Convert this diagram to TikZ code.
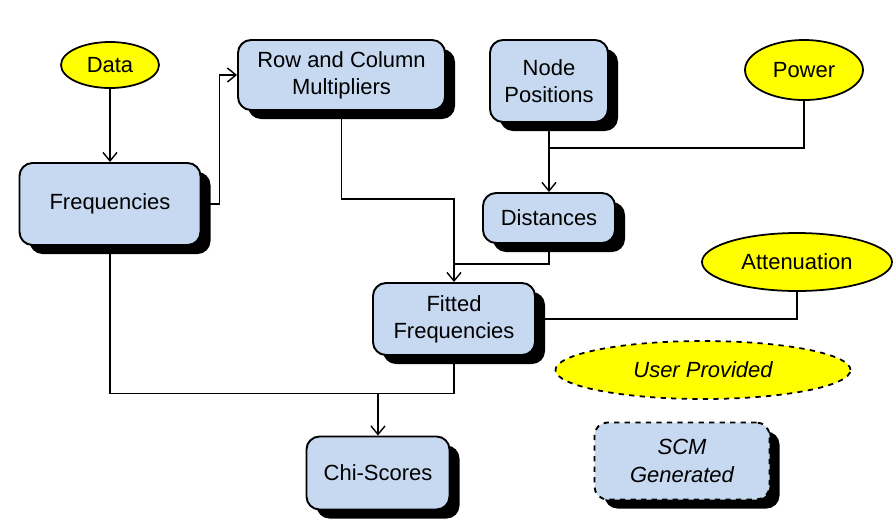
\documentclass[tikz,border=0pt]{standalone}
\usepackage{fontspec}
\setmainfont{Liberation Sans}
\usetikzlibrary{arrows.meta,shapes.geometric,shadows}
\definecolor{boxblue}{RGB}{198,217,240}
\definecolor{inyellow}{RGB}{255,255,0}

\begin{document}
\begin{tikzpicture}[>={Straight Barb[length=1.7mm,width=2.8mm]},thick,
        font=\fontsize{12.5}{15.5}\selectfont,
        calc/.style={rectangle,rounded corners=2.6mm,draw,line width=1.1pt,fill=boxblue,
            align=center,inner sep=0pt,
            general shadow={fill=black,shadow xshift=0.2cm,shadow yshift=-0.18cm}},
        input/.style={ellipse,draw,line width=1pt,fill=inyellow,inner sep=0pt}]
        \useasboundingbox (0,0) rectangle (17.86,-10.44);
        \node[input,minimum width=1.96cm,minimum height=0.92cm]  at (2.2,-1.3)    (data)    {Data};
        \node[calc,minimum width=3.62cm,minimum height=1.64cm]   at (2.2,-4.08)   (freq)    {Frequencies};
        \node[calc,minimum width=4.14cm,minimum height=1.4cm]    at (6.83,-1.5)   (rowcol)  {Row and Column\\Multipliers};
        \node[calc,minimum width=2.36cm,minimum height=1.64cm]   at (10.98,-1.62) (nodepos) {Node\\Positions};
        \node[input,minimum width=2.36cm,minimum height=1.2cm]   at (16.08,-1.4)  (power)   {Power};
        \node[calc,minimum width=2.64cm,minimum height=1.0cm]    at (10.98,-4.36) (dist)    {Distances};
        \node[input,minimum width=3.8cm,minimum height=1.16cm]   at (15.94,-5.24) (atten)   {Attenuation};
        \node[calc,minimum width=3.24cm,minimum height=1.44cm]   at (9.08,-6.38)  (fitted)  {Fitted\\Frequencies};
        \node[input,dashed,minimum width=5.9cm,minimum height=1.16cm] at (14.06,-7.4) (user) {\itshape User Provided};
        \node[calc,dashed,minimum width=3.5cm,minimum height=1.54cm] at (13.64,-9.22) (scm) {\itshape SCM\\\itshape Generated};
        \node[calc,minimum width=2.86cm,minimum height=1.46cm]   at (7.56,-9.46)  (chi)     {Chi-Scores};
        \coordinate (join) at ([yshift=0.84cm]chi.north);

        \draw[->] (data) -- (freq);
        \draw[->] (freq.east) -- ++(0.36,0) |- (rowcol.west);
        \draw[->] (rowcol.south) -- ++(0,-1.76) -| (fitted.north);
        \draw[->] (nodepos) -- (dist);
        \draw (power.south) |- ([yshift=-0.5cm]nodepos.south);
        \draw (dist.south) |- ([yshift=0.36cm]fitted.north);
        \draw (atten.south) |- (fitted.east);
        \draw (freq.south) |- (join);
        \draw (fitted.south) |- (join);
        \draw[->] (join) -- (chi);
    \end{tikzpicture}
\end{document}
